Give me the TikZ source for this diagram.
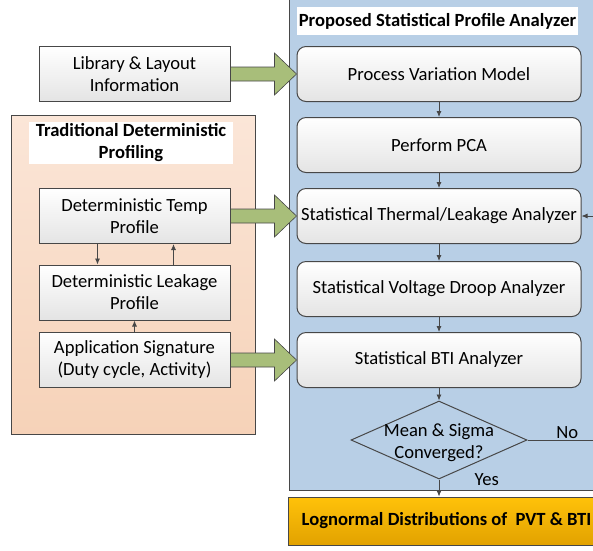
\documentclass[tikz,border=0pt]{standalone}
\usepackage{fontspec}
\setmainfont{Carlito}
\usetikzlibrary{shapes.geometric,arrows.meta,positioning,calc,shadings}
\definecolor{linegray}{HTML}{474747}
\definecolor{panelblue}{HTML}{B8CFE6}
\definecolor{peachtop}{HTML}{FBE6D8}
\definecolor{peachbot}{HTML}{F6D2B8}
\definecolor{boxgray}{HTML}{E4E4E4}
\definecolor{arrowgreen}{HTML}{A8BE7A}
\definecolor{goldtop}{HTML}{FFC20A}
\definecolor{goldbot}{HTML}{E2A200}

\newcommand{\fatarrow}[2]{%
  \draw[fatarr] ($(#1.east)+(0,-7)$) -- ($(#2.west)+(-22,-7)$)
    -- ($(#2.west)+(-22,-21)$) -- (#2.west) -- ($(#2.west)+(-22,21)$)
    -- ($(#2.west)+(-22,7)$) -- ($(#1.east)+(0,7)$) -- cycle;}

\begin{document}
\begin{tikzpicture}[x=1pt,y=-1pt,
    every node/.style={font=\fontsize{18.6}{22}\selectfont, align=center},
    stepbox/.style={draw=linegray, line width=1pt, rounded corners=9pt,
      top color=white, bottom color=boxgray, minimum width=284pt,
      minimum height=55pt, inner sep=0pt},
    sqbox/.style={draw=linegray, line width=1pt, top color=white,
      bottom color=boxgray, minimum width=191pt, minimum height=55pt, inner sep=0pt},
    titlebox/.style={fill=white, inner sep=0pt, font=\fontsize{18.6}{22}\selectfont\bfseries},
    arr/.style={draw=linegray, line width=0.8pt, -{Latex[length=6pt,width=5pt]}},
    fatarr/.style={draw=linegray, line width=0.6pt, fill=arrowgreen}]
\clip (0,0) rectangle (593,550);
\useasboundingbox (0,0) rectangle (593,550);

% panels
\draw[draw=linegray, line width=1pt, fill=panelblue] (289,-10) rectangle (620,490);
\draw[draw=linegray, line width=1pt, top color=peachtop, bottom color=peachbot]
  (11,115) rectangle (255,434);
\node[titlebox, minimum width=281pt, minimum height=28pt] (ptitle) at (437.5,21)
  {Proposed Statistical Profile Analyzer};
\node[titlebox, minimum width=204pt, minimum height=42pt] (ttitle) at (131,143)
  {Traditional Deterministic\\Profiling};

% analyzer flow
\node[stepbox] (pvm) at (439,74) {Process Variation Model};
\node[stepbox] (pca) at (439,145) {Perform PCA};
\node[stepbox] (therm) at (439,216) {Statistical Thermal/Leakage Analyzer};
\node[stepbox] (droop) at (439,289) {Statistical Voltage Droop Analyzer};
\node[stepbox] (bti) at (439,360) {Statistical BTI Analyzer};
\node[draw=linegray, line width=1pt, shape=diamond, minimum width=176pt,
  minimum height=78pt, inner sep=0pt,
  label={[yshift=-3pt]center:{Mean \& Sigma\\Converged?}}] (conv) at (439,440) {};
\node[draw=linegray, line width=1pt, top color=goldtop, bottom color=goldbot,
  minimum width=340pt, minimum height=48pt, inner sep=0pt, anchor=west,
  font=\fontsize{18.6}{22}\selectfont\bfseries] (lognorm) at (288,521)
  {\hspace*{-24pt}Lognormal Distributions of\ \ PVT \& BTI};

% inputs
\node[sqbox] (lib) at (134.5,74) {Library \& Layout\\Information};
\node[sqbox] (temp) at (134.5,216) {Deterministic Temp\\Profile};
\node[sqbox] (leak) at (134.5,292.5) {Deterministic Leakage\\Profile};
\node[sqbox] (app) at (134.5,360) {Application Signature\\(Duty cycle, Activity)};

% connectors
\draw[arr] (pvm) -- (pca);
\draw[arr] (pca) -- (therm);
\draw[arr] (therm) -- (droop);
\draw[arr] (droop) -- (bti);
\draw[arr] (bti) -- (conv);
\draw[arr] (conv.south) -- (lognorm.north -| conv.south);
\node[anchor=west] (yes) at (471,480) {Yes};
\coordinate (loopc) at (596,440);
\draw[arr] (conv.east) -- node[pos=0.58, above, inner sep=1pt] (no) {No} (loopc)
  |- (therm.east);
\draw[arr] ([xshift=-37]temp.south) -- ([xshift=-37]leak.north);
\draw[arr] ([xshift=39]leak.north) -- ([xshift=39]temp.south);
\draw[arr] (app) -- (leak);

\fatarrow{lib}{pvm}
\fatarrow{temp}{therm}
\fatarrow{app}{bti}
\end{tikzpicture}
\end{document}
